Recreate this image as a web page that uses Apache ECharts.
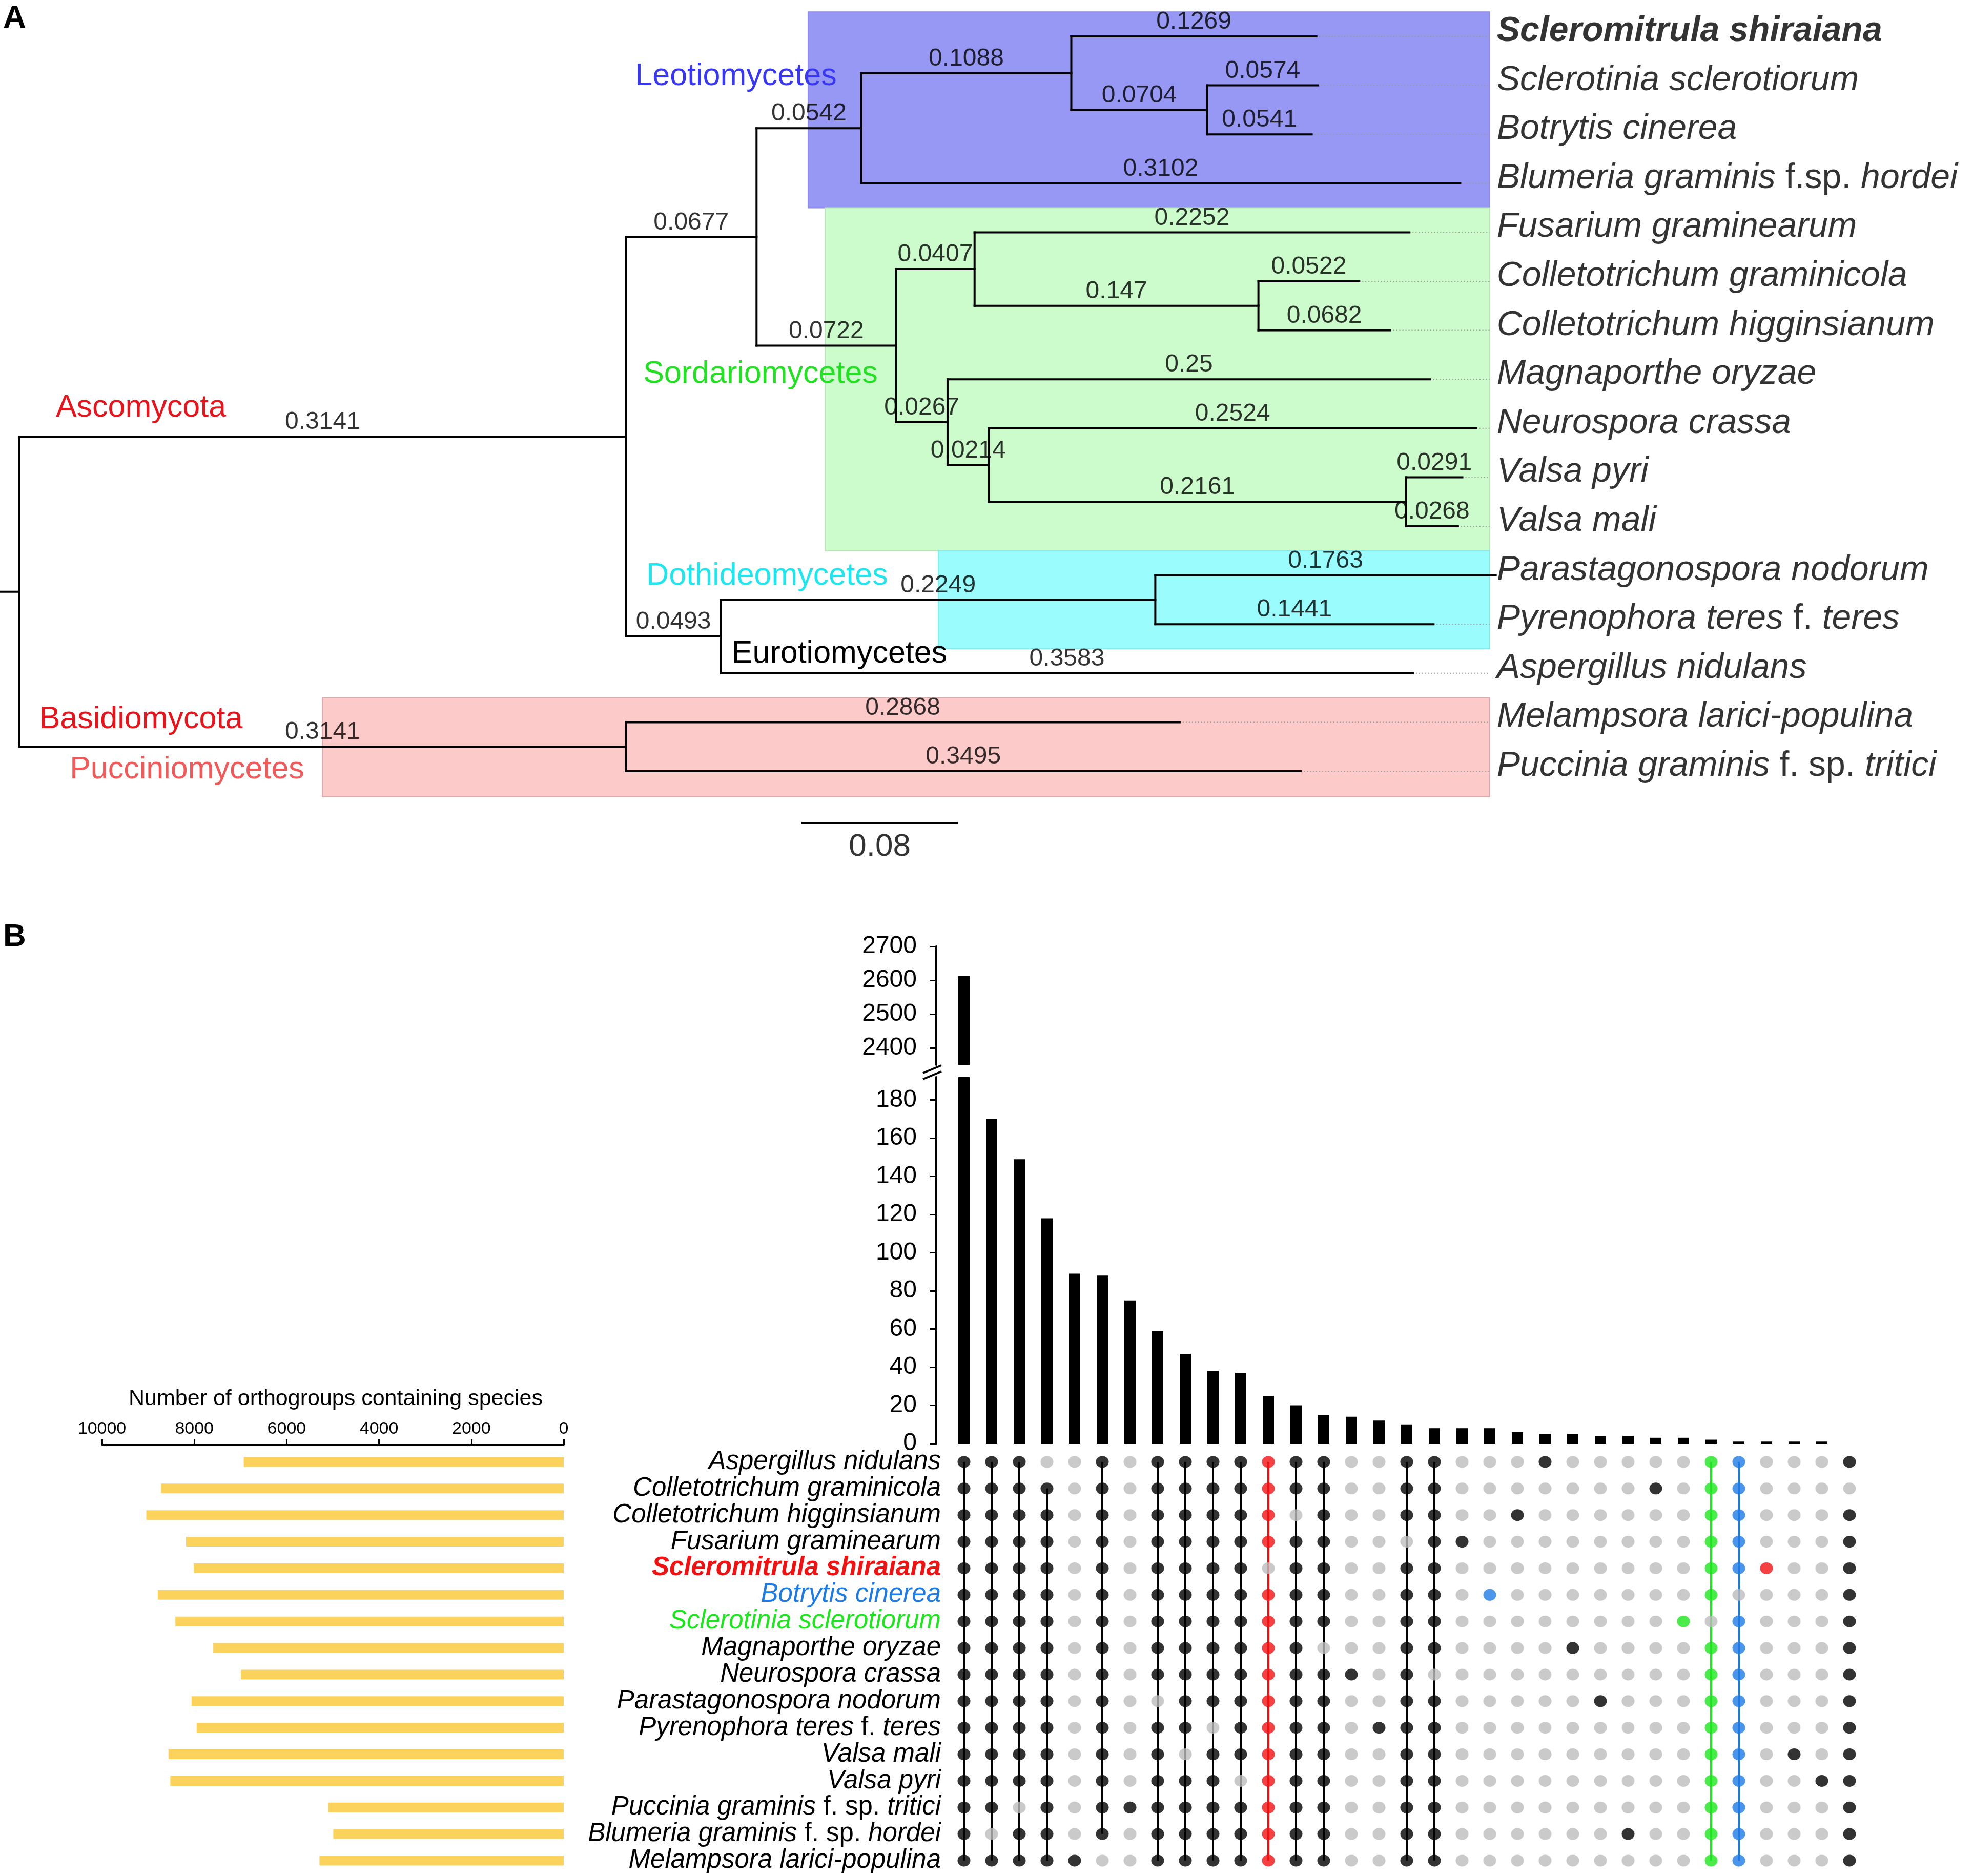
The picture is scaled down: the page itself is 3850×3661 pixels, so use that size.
<!DOCTYPE html>
<html><head><meta charset="utf-8">
<script src="https://cdn.jsdelivr.net/npm/echarts@6/dist/echarts.min.js"></script>
<style>html,body{margin:0;padding:0;background:#fff}#c{width:3850px;height:3661px}</style>
</head><body><div id="c"></div>
<script>
// ================= DATA =================
// Panel A: phylogenetic tree (tip order top -> bottom)
const tipNames = [
  'Scleromitrula shiraiana','Sclerotinia sclerotiorum','Botrytis cinerea','Blumeria graminis f.sp. hordei',
  'Fusarium graminearum','Colletotrichum graminicola','Colletotrichum higginsianum','Magnaporthe oryzae',
  'Neurospora crassa','Valsa pyri','Valsa mali','Parastagonospora nodorum','Pyrenophora teres f. teres',
  'Aspergillus nidulans','Melampsora larici-populina','Puccinia graminis f. sp. tritici'
];
// [child, parent, branch length]
const treeEdges = [
  ['Asco','root',0.3141], ['Basid','root',0.3141],
  ['LeoSor','Asco',0.0677], ['DotEur','Asco',0.0493],
  ['Leo','LeoSor',0.0542], ['Sor','LeoSor',0.0722],
  ['ScleBot','Leo',0.1088], ['Blumeria graminis f.sp. hordei','Leo',0.3102],
  ['Scleromitrula shiraiana','ScleBot',0.1269], ['SsBc','ScleBot',0.0704],
  ['Sclerotinia sclerotiorum','SsBc',0.0574], ['Botrytis cinerea','SsBc',0.0541],
  ['FusCol','Sor',0.0407], ['MagNeuVal','Sor',0.0267],
  ['Fusarium graminearum','FusCol',0.2252], ['Col','FusCol',0.147],
  ['Colletotrichum graminicola','Col',0.0522], ['Colletotrichum higginsianum','Col',0.0682],
  ['Magnaporthe oryzae','MagNeuVal',0.25], ['NeuVal','MagNeuVal',0.0214],
  ['Neurospora crassa','NeuVal',0.2524], ['Val','NeuVal',0.2161],
  ['Valsa pyri','Val',0.0291], ['Valsa mali','Val',0.0268],
  ['Dot','DotEur',0.2249], ['Aspergillus nidulans','DotEur',0.3583],
  ['Parastagonospora nodorum','Dot',0.1763], ['Pyrenophora teres f. teres','Dot',0.1441],
  ['Melampsora larici-populina','Basid',0.2868], ['Puccinia graminis f. sp. tritici','Basid',0.3495]
];
const scaleBarLength = 0.08;

// Panel B: UpSet plot
const upsetCounts = [2612,170,149,118,89,88,75,59,47,38,37,25,20,15,14,12,10,8,8,8,6,5,5,4,4,3,3,2,1,1,1,1,0];
const matrixSpecies = [
  'Aspergillus nidulans','Colletotrichum graminicola','Colletotrichum higginsianum','Fusarium graminearum',
  'Scleromitrula shiraiana','Botrytis cinerea','Sclerotinia sclerotiorum','Magnaporthe oryzae',
  'Neurospora crassa','Parastagonospora nodorum','Pyrenophora teres f. teres','Valsa mali','Valsa pyri',
  'Puccinia graminis f. sp. tritici','Blumeria graminis f. sp. hordei','Melampsora larici-populina'
];
const orthogroupCounts = [6930,8720,9040,8180,8010,8790,8410,7590,6990,8060,7950,8560,8520,5100,4990,5290];
// membership of each intersection (column), one char per species row
const intersectionMembers = [
  '1111111111111111','1111111111111101','1111111111111011','0111111111111111',
  '0000000000000001','1111111111111110','0000000000000100','1111111110111111',
  '1111111111101111','1111111111011111','1111111111110111','1111011111111111',
  '1101111111111111','1111111011111111','0000000010000000','0000000000100000',
  '1110111111111111','1111111101111111','0001000000000000','0000010000000000',
  '0010000000000000','1000000000000000','0000000100000000','0000000001000000',
  '0000000000000010','0100000000000000','0000001000000000','1111110111111111',
  '1111101111111111','0000100000000000','0000000000010000','0000000000001000',
  '1011111111111111'
];
const intersectionFocus = [
  '','','','','','','','','','','',
  'Scleromitrula shiraiana',
  '','','','','','','',
  'Botrytis cinerea',
  '','','','','','',
  'Sclerotinia sclerotiorum','Sclerotinia sclerotiorum','Botrytis cinerea','Scleromitrula shiraiana',
  '','',''
];
const upperTicks = [2400,2500,2600,2700];
const lowerTicks = [0,20,40,60,80,100,120,140,160,180];
const countTicks = [0,2000,4000,6000,8000,10000];

// ================= STYLE / LAYOUT =================
const FONT = '"Liberation Sans", Arial, sans-serif';
const speciesColor = {
  'Scleromitrula shiraiana':'#f21111',
  'Botrytis cinerea':'#1e7be6',
  'Sclerotinia sclerotiorum':'#1ee61e'
};
const GREY = '#bdbdbd';
const TREE_XMIN = -0.01, TREE_XMAX = 0.78, BOX_RIGHT = 0.7614;
const PX_PER_UNIT = 3768, ROW_PX = 95.6;
const TREE_YMIN = -0.5, TREE_YMAX = 17;
const cladeBoxes = [
  {x0:0.4085, y0:-0.5, y1:3.5,  fill:'#9797f4', stroke:'#8a8ae0'},
  {x0:0.4173, y0:3.5,  y1:10.5, fill:'#ccfccc', stroke:'#b8e8b8'},
  {x0:0.4759, y0:10.5, y1:12.5, fill:'#9afcfc', stroke:'#88e8e8'},
  {x0:0.157,  y0:13.5, y1:15.52,fill:'#fdcaca', stroke:'#d9a8a8'}
];
const scaleBarPos = {x:0.4056, y:16.06};
const UPPER_MIN = 2350, UPPER_MAX = 2700, LOWER_MAX = 192;
const COL_X0 = 1827, COL_PX = 54, NCOL = 34;
const ROWS_TOP = 2827, ROW_H = 51.87;

// ================= TREE LAYOUT (from data) =================
const nodes = {};
function node(id){ return nodes[id] || (nodes[id] = {id:id, children:[], len:0}); }
treeEdges.forEach(function(e){ node(e[1]).children.push(e[0]); node(e[0]).len = e[2]; node(e[0]).parent = e[1]; });
function layout(id, x){
  const n = nodes[id]; n.x = x;
  if (!n.children.length) { n.y = tipNames.indexOf(id); }
  else {
    n.children.forEach(function(c){ layout(c, x + nodes[c].len); });
    const ys = n.children.map(function(c){ return nodes[c].y; });
    n.y0 = Math.min.apply(null, ys); n.y1 = Math.max.apply(null, ys); n.y = (n.y0 + n.y1) / 2;
  }
}
layout('root', 0);
const treeSegs = [];
const branchLabels = [];
Object.keys(nodes).forEach(function(k){
  const n = nodes[k];
  if (n.parent !== undefined) {
    const px = nodes[n.parent].x;
    treeSegs.push([px, n.y, n.x, n.y]);
    branchLabels.push({value:[px + n.len/2, n.y], txt:String(n.len)});
  }
  if (n.children.length) treeSegs.push([n.x, n.y0, n.x, n.y1]);
});
treeSegs.push([TREE_XMIN, nodes.root.y, 0, nodes.root.y]);
treeSegs.push([scaleBarPos.x, scaleBarPos.y, scaleBarPos.x + scaleBarLength, scaleBarPos.y]);
const leaderSegs = tipNames.map(function(t){ const n = nodes[t]; return [n.x, n.y, BOX_RIGHT, n.y]; })
  .filter(function(s){ return s[0] < BOX_RIGHT; });

// ================= UPSET MATRIX (from data) =================
const dotData = [];
const linkData = [];
const linkColors = [];
intersectionMembers.forEach(function(m, c){
  const focus = intersectionFocus[c];
  const col = focus ? speciesColor[focus] : '#000';
  const rows = [];
  for (let r = 0; r < m.length; r++) {
    const inSet = m[r] === '1';
    if (inSet) rows.push(r);
    dotData.push({value:[c+1, r], itemStyle:{color: inSet ? col : GREY}});
  }
  if (rows.length > 1 && upsetCounts[c] > 0) {
    linkData.push([c+1, rows[0], c+1, rows[rows.length-1]]);
    linkColors.push(col);
  }
});

function richName(name, base){
  const nonItal = ['f.','sp.','f.sp.'];
  return name.split(' ').map(function(t){ return '{' + (nonItal.indexOf(t) >= 0 ? 'n' : base) + '|' + t + '}'; }).join(' ');
}
function segRenderer(styleFn){
  return function(params, api){
    const a = api.coord([api.value(0), api.value(1)]);
    const b = api.coord([api.value(2), api.value(3)]);
    return {type:'line', shape:{x1:a[0], y1:a[1], x2:b[0], y2:b[1]}, style: styleFn(params)};
  };
}
function plainNum(v){ return String(v); }

const chart = echarts.init(document.getElementById('c'), null, {renderer:'canvas', width:3850, height:3661});
const hiddenAxis = {show:false};
const option = {
  animation:false,
  backgroundColor:'#fff',
  textStyle:{fontFamily:FONT},
  grid:[
    {left:0, top:23.2, width:(TREE_XMAX-TREE_XMIN)*PX_PER_UNIT, height:(TREE_YMAX-TREE_YMIN)*ROW_PX, outerBoundsMode:'none'},
    {left:COL_X0, top:1847, width:NCOL*COL_PX, height:231, outerBoundsMode:'none'},
    {left:COL_X0, top:2102, width:NCOL*COL_PX, height:715, outerBoundsMode:'none'},
    {left:COL_X0, top:ROWS_TOP, width:NCOL*COL_PX, height:16*ROW_H, outerBoundsMode:'none'},
    {left:199, top:ROWS_TOP, width:901, height:16*ROW_H, outerBoundsMode:'none'}
  ],
  xAxis:[
    Object.assign({type:'value', gridIndex:0, min:TREE_XMIN, max:TREE_XMAX}, hiddenAxis),
    Object.assign({type:'value', gridIndex:1, min:0, max:NCOL}, hiddenAxis),
    Object.assign({type:'value', gridIndex:2, min:0, max:NCOL}, hiddenAxis),
    Object.assign({type:'value', gridIndex:3, min:0, max:NCOL}, hiddenAxis),
    {type:'value', gridIndex:4, min:0, max:10000, inverse:true, position:'top', offset:8,
     axisLine:{show:true, lineStyle:{color:'#000', width:4}},
     axisTick:{show:true, length:10, customValues:countTicks, lineStyle:{color:'#000', width:3}},
     axisLabel:{show:true, fontSize:34, color:'#000', margin:13, fontFamily:FONT, customValues:countTicks, formatter:plainNum},
     splitLine:{show:false}}
  ],
  yAxis:[
    Object.assign({type:'value', gridIndex:0, min:TREE_YMIN, max:TREE_YMAX, inverse:true}, hiddenAxis),
    {type:'value', gridIndex:1, min:UPPER_MIN, max:UPPER_MAX, offset:8,
     axisLine:{show:true, lineStyle:{color:'#000', width:4}},
     axisTick:{show:true, length:12, customValues:upperTicks, lineStyle:{color:'#000', width:3}},
     axisLabel:{show:true, fontSize:48, color:'#000', margin:30, customValues:upperTicks, fontFamily:FONT, formatter:plainNum},
     splitLine:{show:false}},
    {type:'value', gridIndex:2, min:0, max:LOWER_MAX, offset:8,
     axisLine:{show:true, lineStyle:{color:'#000', width:4}},
     axisTick:{show:true, length:12, customValues:lowerTicks, lineStyle:{color:'#000', width:3}},
     axisLabel:{show:true, fontSize:48, color:'#000', margin:30, customValues:lowerTicks, fontFamily:FONT, formatter:plainNum},
     splitLine:{show:false}},
    {type:'category', gridIndex:3, data:matrixSpecies, inverse:true, offset:-17,
     axisLine:{show:false}, axisTick:{show:false}, splitLine:{show:false},
     axisLabel:{show:true, margin:8, fontSize:51, color:'#000', fontFamily:FONT, interval:0,
       formatter:function(v){
         if (v === 'Scleromitrula shiraiana') return richName(v, 'r');
         if (v === 'Botrytis cinerea') return richName(v, 'bl');
         if (v === 'Sclerotinia sclerotiorum') return richName(v, 'g');
         return richName(v, 'i');
       },
       rich:{
         i:{fontSize:51, fontStyle:'italic', color:'#000', fontFamily:FONT},
         n:{fontSize:51, color:'#000', fontFamily:FONT},
         r:{fontSize:51, fontStyle:'italic', fontWeight:'bold', color:speciesColor['Scleromitrula shiraiana'], fontFamily:FONT},
         bl:{fontSize:51, fontStyle:'italic', color:speciesColor['Botrytis cinerea'], fontFamily:FONT},
         g:{fontSize:51, fontStyle:'italic', color:speciesColor['Sclerotinia sclerotiorum'], fontFamily:FONT}
       }}},
    Object.assign({type:'category', gridIndex:4, data:matrixSpecies, inverse:true}, hiddenAxis)
  ],
  series:[
    {type:'custom', xAxisIndex:0, yAxisIndex:0, z:1, silent:true,
     data:cladeBoxes.map(function(b){ return [b.x0, b.y0, BOX_RIGHT, b.y1]; }),
     renderItem:function(params, api){
       const a = api.coord([api.value(0), api.value(1)]);
       const b = api.coord([api.value(2), api.value(3)]);
       const bx = cladeBoxes[params.dataIndex];
       return {type:'rect', shape:{x:a[0], y:a[1], width:b[0]-a[0], height:b[1]-a[1]},
               style:{fill:bx.fill, stroke:bx.stroke, lineWidth:2}};
     }},
    {type:'custom', xAxisIndex:0, yAxisIndex:0, z:2, silent:true, data:leaderSegs,
     renderItem:segRenderer(function(){ return {stroke:'#9a9a9a', lineWidth:2, lineDash:[2,4]}; })},
    {type:'custom', xAxisIndex:0, yAxisIndex:0, z:3, silent:true, data:treeSegs,
     renderItem:segRenderer(function(){ return {stroke:'#000', lineWidth:4, lineCap:'square'}; })},
    {type:'scatter', xAxisIndex:0, yAxisIndex:0, z:4, silent:true, symbolSize:0,
     data:branchLabels.map(function(b){ return b.value; }),
     label:{show:true, position:'top', distance:4, fontSize:48, color:'#000', fontFamily:FONT,
       formatter:function(p){ return branchLabels[p.dataIndex].txt; }}},
    {type:'scatter', xAxisIndex:0, yAxisIndex:0, z:4, silent:true, symbolSize:0,
     data:tipNames.map(function(t, i){ return [BOX_RIGHT, i]; }),
     label:{show:true, position:'right', distance:14, offset:[0,-10], fontSize:68, color:'#000', fontFamily:FONT,
       formatter:function(p){ const t = tipNames[p.dataIndex]; return richName(t, t === 'Scleromitrula shiraiana' ? 'b' : 'i'); },
       rich:{
         i:{fontSize:68, fontStyle:'italic', color:'#000', fontFamily:FONT},
         n:{fontSize:68, color:'#000', fontFamily:FONT},
         b:{fontSize:68, fontStyle:'italic', fontWeight:'bold', color:'#000', fontFamily:FONT}
       }}},
    {type:'scatter', xAxisIndex:0, yAxisIndex:0, z:4, silent:true, symbolSize:0,
     data:[[scaleBarPos.x + scaleBarLength/2, scaleBarPos.y]],
     label:{show:true, position:'bottom', distance:16, fontSize:62, color:'#000', fontFamily:FONT,
       formatter:function(){ return String(scaleBarLength); }}},
    {type:'bar', xAxisIndex:1, yAxisIndex:1, barWidth:22, silent:true, itemStyle:{color:'#000'},
     data:upsetCounts.map(function(v, i){ return [i+1, v]; }).filter(function(d){ return d[1] > UPPER_MIN; })},
    {type:'bar', xAxisIndex:2, yAxisIndex:2, barWidth:22, silent:true, itemStyle:{color:'#000'},
     data:upsetCounts.map(function(v, i){ return [i+1, v]; })},
    {type:'custom', xAxisIndex:3, yAxisIndex:3, z:2, silent:true, data:linkData,
     renderItem:segRenderer(function(p){ return {stroke:linkColors[p.dataIndex], lineWidth:4}; })},
    {type:'scatter', xAxisIndex:3, yAxisIndex:3, z:3, silent:true, symbol:'circle', symbolSize:[25,23],
     data:dotData},
    {type:'bar', xAxisIndex:4, yAxisIndex:4, barWidth:19, silent:true, itemStyle:{color:'#fbd35c'},
     data:orthogroupCounts}
  ],
  graphic:[
    {type:'text', z:100, x:6, y:37, style:{text:'A', fontSize:62, fontWeight:'bold', fontFamily:FONT, fill:'#000', align:'left', verticalAlign:'middle'}},
    {type:'text', z:100, x:6, y:1829, style:{text:'B', fontSize:62, fontWeight:'bold', fontFamily:FONT, fill:'#000', align:'left', verticalAlign:'middle'}},
    {type:'text', z:100, x:1436, y:149, style:{text:'Leotiomycetes', fontSize:61, fontFamily:FONT, fill:'#3838f2', align:'center', verticalAlign:'middle'}},
    {type:'text', z:100, x:1484, y:730, style:{text:'Sordariomycetes', fontSize:61, fontFamily:FONT, fill:'#22e022', align:'center', verticalAlign:'middle'}},
    {type:'text', z:100, x:1497, y:1124, style:{text:'Dothideomycetes', fontSize:61, fontFamily:FONT, fill:'#1ee6ee', align:'center', verticalAlign:'middle'}},
    {type:'text', z:100, x:1638, y:1276, style:{text:'Eurotiomycetes', fontSize:61, fontFamily:FONT, fill:'#000', align:'center', verticalAlign:'middle'}},
    {type:'text', z:100, x:275, y:796, style:{text:'Ascomycota', fontSize:61, fontFamily:FONT, fill:'#e8141c', align:'center', verticalAlign:'middle'}},
    {type:'text', z:100, x:275, y:1404, style:{text:'Basidiomycota', fontSize:61, fontFamily:FONT, fill:'#e8141c', align:'center', verticalAlign:'middle'}},
    {type:'text', z:100, x:365, y:1502, style:{text:'Pucciniomycetes', fontSize:61, fontFamily:FONT, fill:'#f25a5a', align:'center', verticalAlign:'middle'}},
    {type:'text', z:100, x:655, y:2730, style:{text:'Number of orthogroups containing species', fontSize:43, fontFamily:FONT, fill:'#000', align:'center', verticalAlign:'middle'}},
    {type:'line', z:100, shape:{x1:1801, y1:2094, x2:1837, y2:2079}, style:{stroke:'#000', lineWidth:4}},
    {type:'line', z:100, shape:{x1:1801, y1:2106, x2:1837, y2:2091}, style:{stroke:'#000', lineWidth:4}}
  ]
};
chart.setOption(option);
</script>
</body></html>
